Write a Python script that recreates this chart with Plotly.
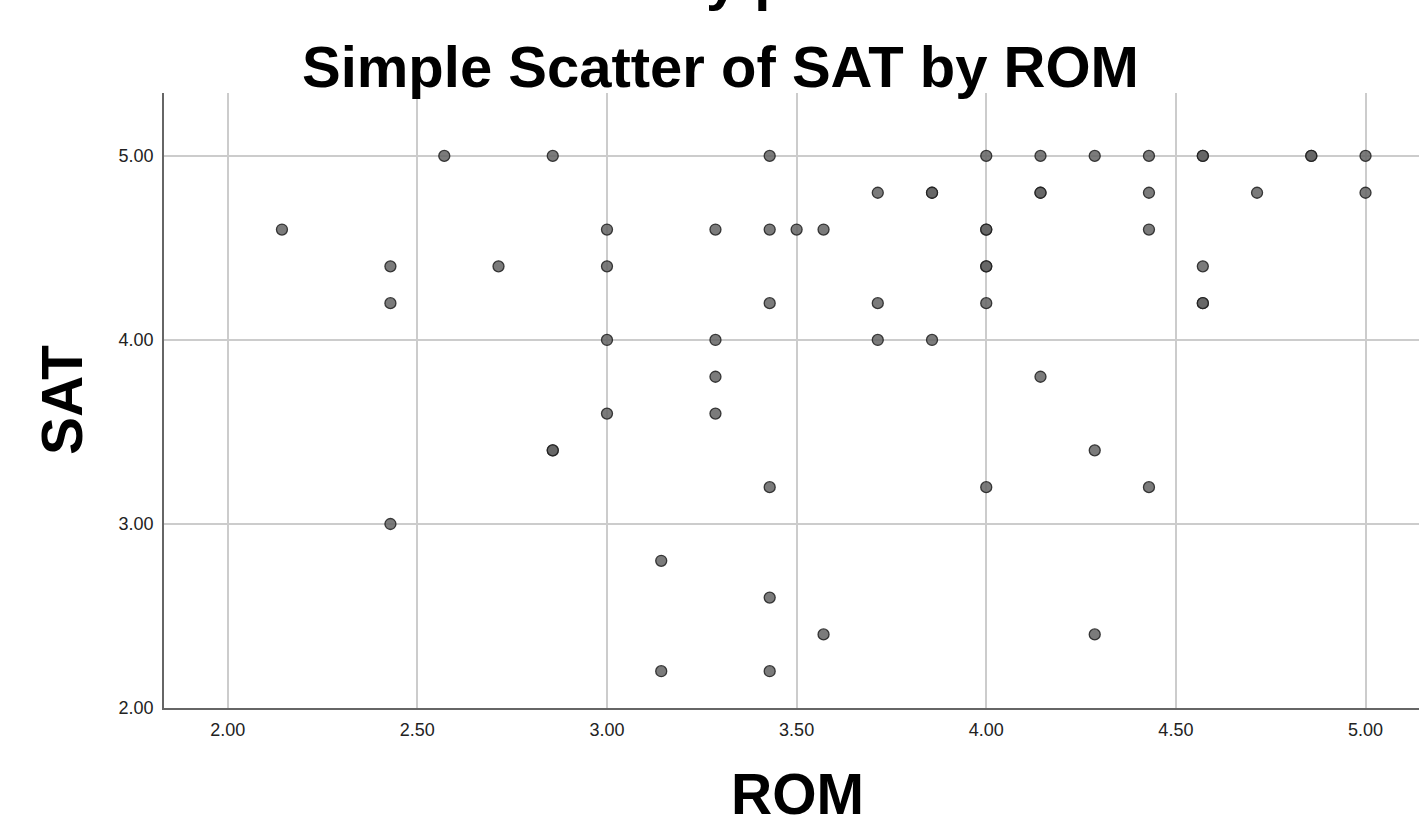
import plotly.graph_objects as go

# Data (ROM, SAT); duplicates appear as darker points
rom = [2.571, 2.857, 3.429, 4.0, 4.143, 4.286, 4.429, 4.571, 4.571, 4.857, 4.857, 5.0,
       3.714, 3.857, 3.857, 4.143, 4.143, 4.429, 4.714, 5.0,
       2.143, 3.0, 3.286, 3.429, 3.5, 3.571, 4.0, 4.0, 4.429,
       2.429, 2.714, 3.0, 4.0, 4.0, 4.571,
       2.429, 3.429, 3.714, 4.0, 4.571, 4.571,
       3.0, 3.286, 3.714, 3.857,
       3.286, 4.143,
       3.0, 3.286,
       2.857, 2.857, 4.286,
       3.429, 4.0, 4.429,
       2.429,
       3.143,
       3.429,
       3.571, 4.286,
       3.143, 3.429]
sat = [5.0, 5.0, 5.0, 5.0, 5.0, 5.0, 5.0, 5.0, 5.0, 5.0, 5.0, 5.0,
       4.8, 4.8, 4.8, 4.8, 4.8, 4.8, 4.8, 4.8,
       4.6, 4.6, 4.6, 4.6, 4.6, 4.6, 4.6, 4.6, 4.6,
       4.4, 4.4, 4.4, 4.4, 4.4, 4.4,
       4.2, 4.2, 4.2, 4.2, 4.2, 4.2,
       4.0, 4.0, 4.0, 4.0,
       3.8, 3.8,
       3.6, 3.6,
       3.4, 3.4, 3.4,
       3.2, 3.2, 3.2,
       3.0,
       2.8,
       2.6,
       2.4, 2.4,
       2.2, 2.2]

x_ticks = [2.0, 2.5, 3.0, 3.5, 4.0, 4.5, 5.0]
y_ticks = [2.0, 3.0, 4.0, 5.0]
title_text = "Simple Scatter of SAT by ROM"
x_title = "ROM"
y_title = "SAT"
clipped_text = "y p"

fig = go.Figure()
fig.add_trace(go.Scatter(
    x=rom, y=sat, mode="markers",
    marker=dict(size=11, color="rgba(100,100,100,0.85)",
                line=dict(color="rgba(30,30,30,0.85)", width=1.3)),
    showlegend=False, cliponaxis=False,
))

fig.update_layout(
    width=1419, height=822,
    margin=dict(l=164, r=0, t=93, b=114),
    paper_bgcolor="white", plot_bgcolor="white",
    font=dict(family="Liberation Sans, Arial, sans-serif", color="black"),
    xaxis=dict(range=[1.832, 5.141], tickvals=x_ticks,
               ticktext=[f"{v:.2f}" for v in x_ticks],
               showgrid=True, gridcolor="#cccccc", gridwidth=1.5,
               zeroline=False, showline=True, linecolor="#666666", linewidth=1.5,
               ticks="", tickfont=dict(size=18, color="#222222"), ticklabelstandoff=5),
    yaxis=dict(range=[2.0, 5.342], tickvals=y_ticks,
               ticktext=[f"{v:.2f}" for v in y_ticks],
               showgrid=True, gridcolor="#cccccc", gridwidth=1.5,
               zeroline=False, showline=True, linecolor="#666666", linewidth=1.5,
               ticks="", tickfont=dict(size=18, color="#222222"), ticklabelstandoff=5),
    annotations=[
        dict(text="<b>" + title_text + "</b>", x=0.4438, y=1, xref="paper", yref="paper",
             xanchor="center", yanchor="middle", yshift=27,
             showarrow=False, font=dict(size=58)),
        dict(text="<b>" + x_title + "</b>", x=0.505, y=0, xref="paper", yref="paper",
             xanchor="center", yanchor="middle", yshift=-86,
             showarrow=False, font=dict(size=57)),
        dict(text="<b>" + y_title + "</b>", x=0, y=0.5008, xref="paper", yref="paper",
             xanchor="center", yanchor="middle", xshift=-102, textangle=-90,
             showarrow=False, font=dict(size=57)),
        dict(text="<b>" + clipped_text + "</b>", x=0.465, y=1, xref="paper", yref="paper",
             xanchor="center", yanchor="bottom", yshift=80,
             showarrow=False, font=dict(size=58)),
    ],
)

fig.write_html(
    "out.html",
    config={"displayModeBar": False},
    post_script="document.body.style.margin='0';document.body.style.overflow='hidden';",
)
